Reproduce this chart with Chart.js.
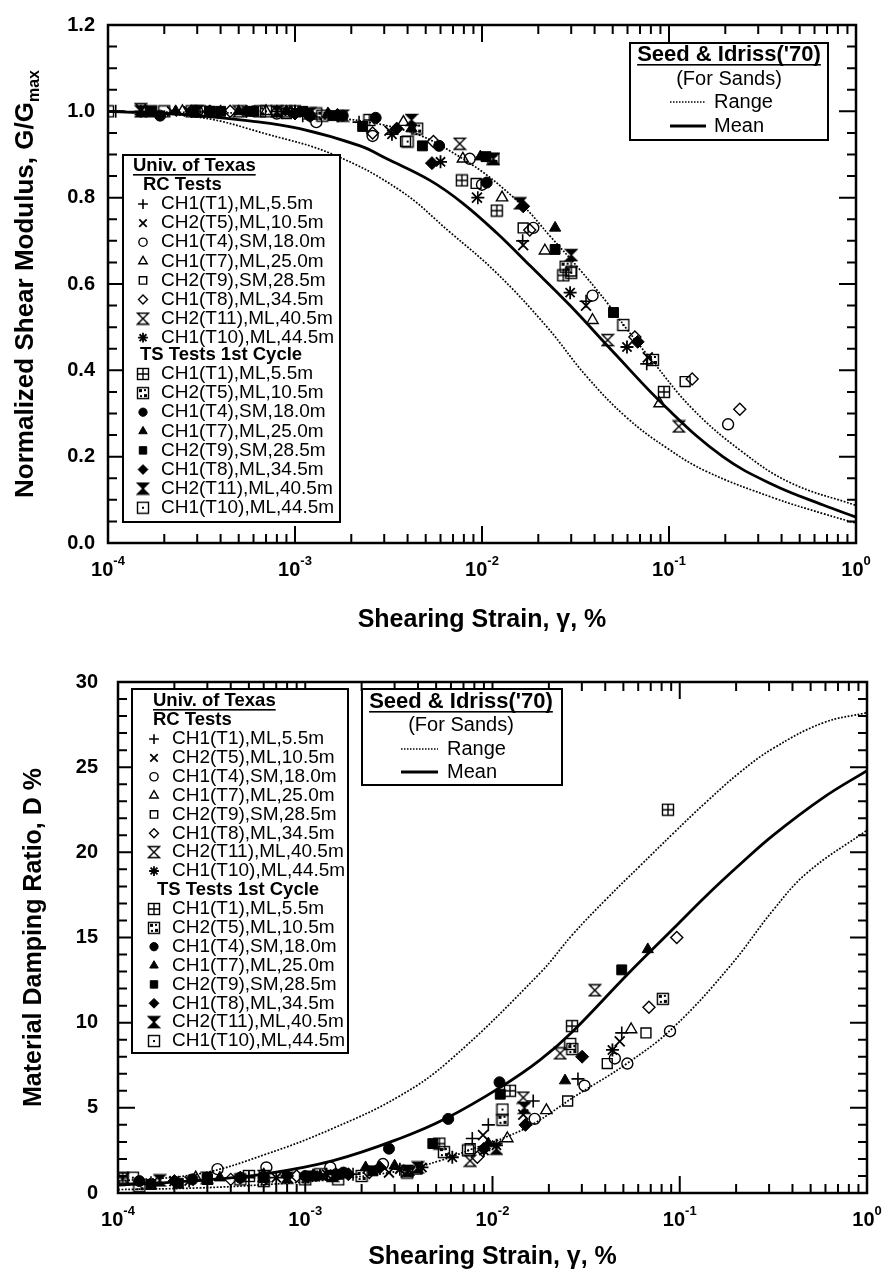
<!DOCTYPE html>
<html>
<head>
<meta charset="utf-8">
<title>Normalized shear modulus and damping vs shearing strain</title>
<script src="https://cdn.jsdelivr.net/npm/chart.js@4.4.1/dist/chart.umd.min.js"></script>
<style>
  body { margin: 0; background: #fff; }
  canvas { display: block; }
</style>
</head>
<body>
<canvas id="modulusChart" width="888" height="650"></canvas>
<canvas id="dampingChart" width="888" height="635"></canvas>
<script>
const FONT = "'Liberation Sans', Arial, Helvetica, sans-serif";

// sample ids, same eight for RC and TS tests
const sampleLabels = [
  'CH1(T1),ML,5.5m', 'CH2(T5),ML,10.5m', 'CH1(T4),SM,18.0m', 'CH1(T7),ML,25.0m',
  'CH2(T9),SM,28.5m', 'CH1(T8),ML,34.5m', 'CH2(T11),ML,40.5m', 'CH1(T10),ML,44.5m'
];
const strainDecades = [-4, -3, -2, -1, 0];

// G/Gmax, [strain %, G/Gmax]
const modulusRC = [
  [[1.1e-4, 1.0], [1.5e-4, 1.0], [4e-4, 1.0], [8e-4, 1.0], [1.1e-3, 0.99], [2.2e-3, 0.975], [9.5e-3, 0.80], [0.0165, 0.70], [0.036, 0.56], [0.076, 0.415]],
  [[2.2e-4, 1.0], [2.7e-4, 1.0], [6e-4, 1.0], [1.6e-3, 0.995], [3.2e-3, 0.955], [9.4e-3, 0.80], [0.0166, 0.69], [0.036, 0.55], [0.077, 0.43]],
  [[3e-4, 1.0], [8e-4, 0.995], [1.3e-3, 0.975], [2.6e-3, 0.943], [8.6e-3, 0.89], [0.010, 0.83], [0.0188, 0.73], [0.039, 0.573], [0.207, 0.275]],
  [[2.5e-4, 1.0], [7e-4, 1.0], [3.8e-3, 0.975], [7.9e-3, 0.89], [0.0128, 0.80], [0.0217, 0.677], [0.039, 0.516], [0.089, 0.323]],
  [[3.5e-4, 1.0], [9e-4, 0.995], [3.9e-3, 0.93], [9.3e-3, 0.833], [0.0166, 0.73], [0.030, 0.63], [0.122, 0.374]],
  [[4.5e-4, 1.0], [1.2e-3, 0.99], [2.6e-3, 0.95], [5.5e-3, 0.93], [0.018, 0.725], [0.0657, 0.477], [0.133, 0.38], [0.239, 0.31]],
  [[1.5e-4, 1.005], [5e-4, 1.0], [1.8e-3, 0.99], [7.6e-3, 0.925], [0.047, 0.47], [0.113, 0.27]],
  [[3.5e-4, 1.0], [1.0e-3, 1.0], [3.3e-3, 0.947], [6e-3, 0.883], [0.0296, 0.58], [0.0596, 0.454]]
];
const modulusTS = [
  [[1.0e-4, 1.0], [3.1e-4, 1.0], [1.0e-3, 1.0], [2.5e-3, 0.98], [7.8e-3, 0.84], [0.012, 0.77], [0.0272, 0.62], [0.094, 0.35]],
  [[1.7e-4, 1.0], [2.8e-4, 1.0], [6.5e-4, 1.0], [9e-4, 1.0], [1.4e-3, 0.99], [4.5e-3, 0.96], [0.0115, 0.89], [0.028, 0.64], [0.082, 0.424]],
  [[1.9e-4, 0.99], [3.5e-4, 1.0], [6e-4, 1.0], [1.2e-3, 0.99], [1.8e-3, 0.99], [2.7e-3, 0.985], [5.9e-3, 0.92], [0.0106, 0.835]],
  [[2.3e-4, 1.0], [5e-4, 1.0], [9e-4, 1.0], [1.5e-3, 0.995], [4.2e-3, 0.96], [0.0098, 0.895], [0.0246, 0.73]],
  [[1.7e-4, 1.0], [4e-4, 1.0], [6e-4, 1.0], [1.1e-3, 1.0], [1.6e-3, 0.99], [2.3e-3, 0.965], [4.8e-3, 0.92], [0.0105, 0.895], [0.0246, 0.68], [0.0505, 0.534]],
  [[2.8e-4, 1.0], [5.5e-4, 1.0], [1.0e-3, 0.995], [1.7e-3, 0.99], [3.5e-3, 0.96], [5.4e-3, 0.88], [0.0166, 0.78], [0.068, 0.466]],
  [[1.5e-4, 1.0], [3e-4, 1.0], [8e-4, 1.0], [1.2e-3, 0.995], [4.2e-3, 0.98], [0.0115, 0.89], [0.016, 0.787], [0.030, 0.667]],
  [[2e-4, 1.0], [7e-4, 1.0], [1.3e-3, 0.995], [4e-3, 0.93], [0.030, 0.626], [0.057, 0.505]]
];

// damping ratio, [strain %, D %]
const dampingRC = [
  [[1.5e-4, 0.6], [5e-4, 0.9], [1.8e-3, 1.1], [7.8e-3, 3.2], [9.5e-3, 4.0], [0.0165, 5.4], [0.0286, 6.7], [0.049, 9.4]],
  [[2e-4, 0.7], [8e-4, 0.9], [1.1e-3, 1.0], [1.53e-3, 1.2], [2.8e-3, 1.2], [3.6e-3, 1.3], [8.9e-3, 3.4], [0.0146, 4.6], [0.0478, 8.9]],
  [[3.4e-4, 1.4], [6.2e-4, 1.5], [1.36e-3, 1.5], [2.6e-3, 1.7], [0.0168, 4.35], [0.031, 6.3], [0.045, 7.9], [0.0525, 7.6], [0.0887, 9.5]],
  [[2.6e-4, 0.9], [1.1e-3, 1.0], [3.9e-3, 1.3], [0.012, 3.2], [0.0194, 4.85], [0.055, 9.6]],
  [[3e-4, 0.8], [1.4e-3, 1.0], [7.6e-3, 2.6], [0.0252, 5.4], [0.041, 7.6], [0.066, 9.4]],
  [[4e-4, 0.8], [9e-4, 1.0], [2.2e-3, 1.2], [8.3e-3, 2.1], [0.0685, 10.9], [0.0964, 15.0]],
  [[1.06e-4, 0.85], [6e-4, 1.0], [7.6e-3, 1.9], [0.0146, 5.6], [0.023, 8.2], [0.0352, 11.9]],
  [[2.4e-4, 0.7], [7e-4, 0.9], [1.3e-3, 1.1], [3.2e-3, 1.4], [4.2e-3, 1.5], [6.1e-3, 2.1], [9e-3, 2.5], [0.0105, 2.8], [0.0437, 8.4]]
];
const dampingTS = [
  [[1.06e-4, 0.9], [5e-4, 1.0], [1.2e-3, 1.1], [5.2e-3, 2.9], [0.0124, 6.0], [0.0266, 9.8], [0.0865, 22.5]],
  [[1.3e-4, 0.4], [6e-4, 0.7], [1e-3, 0.8], [2e-3, 1.0], [3.5e-3, 1.2], [5.5e-3, 2.4], [0.0113, 4.3], [0.0267, 8.45], [0.0812, 11.4]],
  [[1.3e-4, 0.7], [2.5e-4, 0.8], [4.5e-4, 0.9], [1e-3, 1.0], [1.6e-3, 1.2], [2.8e-3, 2.6], [5.8e-3, 4.35], [0.0109, 6.5]],
  [[3.5e-4, 0.9], [6e-4, 1.1], [1.2e-3, 1.0], [2.1e-3, 1.5], [3e-3, 1.6], [9.5e-3, 2.9], [0.0244, 6.6], [0.0675, 14.3]],
  [[1.5e-4, 0.5], [2.1e-4, 0.57], [3e-4, 0.8], [6e-4, 0.9], [1.1e-3, 1.0], [1.5e-3, 1.1], [2.3e-3, 1.3], [4.8e-3, 2.9], [0.011, 5.8], [0.049, 13.1]],
  [[2e-4, 0.7], [4.5e-4, 0.9], [8e-4, 1.0], [1.7e-3, 1.1], [2.5e-3, 1.5], [9e-3, 2.6], [0.015, 4.0], [0.0301, 8.0]],
  [[1.67e-4, 0.74], [3e-4, 0.9], [8e-4, 0.9], [1.4e-3, 1.0], [3.5e-3, 1.3], [4e-3, 1.5], [0.0105, 2.6], [0.0148, 5.0]],
  [[1.2e-4, 0.9], [4.5e-4, 0.8], [1.5e-3, 0.8], [7.4e-3, 2.5], [0.0113, 4.9], [0.026, 8.75]]
];

// Seed & Idriss (1970) curves for sands
const siModulusUpper = [[1e-4, 1.0], [1e-3, 0.99], [3.6e-3, 0.96], [7.9e-3, 0.89], [0.016, 0.787], [0.0231, 0.711], [0.0334, 0.633], [0.0466, 0.557], [0.0596, 0.495], [0.082, 0.42], [0.134, 0.31], [0.24, 0.215], [0.444, 0.14], [1, 0.087]];
const siModulusMean = [[1e-4, 1.0], [2.5e-4, 0.993], [5.7e-4, 0.978], [1.06e-3, 0.96], [2.23e-3, 0.92], [3.1e-3, 0.89], [5.27e-3, 0.84], [7.9e-3, 0.787], [0.012, 0.718], [0.0181, 0.642], [0.0296, 0.55], [0.0502, 0.443], [0.0976, 0.312], [0.194, 0.2], [0.36, 0.135], [0.667, 0.088], [1, 0.06]];
const siModulusLower = [[1e-4, 1.0], [3.1e-4, 0.986], [7.1e-4, 0.947], [1.6e-3, 0.90], [3.64e-3, 0.817], [6.74e-3, 0.72], [0.012, 0.625], [0.0223, 0.50], [0.0364, 0.385], [0.0596, 0.29], [0.0975, 0.22], [0.16, 0.165], [0.36, 0.105], [0.667, 0.068], [1, 0.046]];
const siDampingUpper = [[1e-4, 0.7], [2.74e-4, 1.14], [6.25e-4, 2.3], [1.41e-3, 3.8], [3.2e-3, 5.7], [5.93e-3, 7.8], [0.0179, 12.9], [0.0269, 15.2], [0.0409, 17.3], [0.0613, 19.2], [0.092, 21.1], [0.14, 23.0], [0.21, 24.7], [0.315, 26.1], [0.582, 27.6], [1, 28.2]];
const siDampingMean = [[1e-4, 0.46], [2.74e-4, 0.74], [6.25e-4, 1.14], [1.41e-3, 1.9], [3.2e-3, 3.2], [5.7e-3, 4.4], [0.011, 6.2], [0.0179, 7.8], [0.0269, 9.5], [0.0522, 12.8], [0.092, 15.5], [0.14, 17.5], [0.21, 19.3], [0.315, 21.0], [0.582, 23.2], [1, 24.8]];
const siDampingLower = [[1e-4, 0.2], [2.74e-4, 0.3], [6.25e-4, 0.5], [1.41e-3, 0.8], [3.2e-3, 1.3], [5.25e-3, 1.9], [7.87e-3, 2.6], [0.0119, 3.3], [0.0168, 4.1], [0.0269, 5.6], [0.0522, 7.6], [0.092, 9.7], [0.185, 13.3], [0.315, 16.6], [0.479, 18.8], [1, 21.3]];

// --- symbols ---
function symbolCanvas(draw) {
  const c = document.createElement('canvas');
  c.width = 14; c.height = 14;
  const g = c.getContext('2d');
  g.strokeStyle = '#000';
  g.fillStyle = '#000';
  g.lineWidth = 1.4;
  draw(g);
  return c;
}
function hourglassPath(g) {
  g.beginPath();
  g.moveTo(1.5, 1.5); g.lineTo(12.5, 1.5); g.lineTo(1.5, 12.5); g.lineTo(12.5, 12.5); g.closePath();
}
const hourglassOpen = symbolCanvas(g => { hourglassPath(g); g.stroke(); });
const hourglassSolid = symbolCanvas(g => { hourglassPath(g); g.fill(); g.stroke(); });
const boxPlus = symbolCanvas(g => {
  g.strokeRect(1.5, 1.5, 11, 11);
  g.beginPath(); g.moveTo(7, 1.5); g.lineTo(7, 12.5); g.moveTo(1.5, 7); g.lineTo(12.5, 7); g.stroke();
});
const boxShaded = symbolCanvas(g => {
  g.strokeRect(1.5, 1.5, 11, 11);
  g.fillRect(3, 3, 3, 3); g.fillRect(8, 8, 3, 3);
  g.fillRect(8, 3, 2, 2); g.fillRect(4, 9, 2, 2);
});
const boxDot = symbolCanvas(g => {
  g.strokeRect(1.5, 1.5, 11, 11);
  g.fillRect(6, 6, 2, 2);
});

const OPEN = 'rgba(0,0,0,0)';
const markRC = [
  { style: 'cross', radius: 6.5, width: 1.6, fill: OPEN },
  { style: 'crossRot', radius: 7, width: 1.8, fill: OPEN },
  { style: 'circle', radius: 5.5, width: 1.4, fill: OPEN },
  { style: 'triangle', radius: 6.5, width: 1.4, fill: OPEN },
  { style: 'rect', radius: 7, width: 1.4, fill: OPEN },
  { style: 'rectRot', radius: 6, width: 1.4, fill: OPEN },
  { style: hourglassOpen, radius: 6, width: 1, fill: OPEN },
  { style: 'star', radius: 6.5, width: 1.8, fill: OPEN }
];
const markTS = [
  { style: boxPlus, radius: 6, width: 1, fill: OPEN },
  { style: boxShaded, radius: 6, width: 1, fill: OPEN },
  { style: 'circle', radius: 5.5, width: 1, fill: '#000' },
  { style: 'triangle', radius: 6.5, width: 1, fill: '#000' },
  { style: 'rect', radius: 7, width: 1, fill: '#000' },
  { style: 'rectRot', radius: 6.5, width: 1, fill: '#000' },
  { style: hourglassSolid, radius: 6, width: 1, fill: '#000' },
  { style: boxDot, radius: 6, width: 1, fill: OPEN }
];

function pointSets(rc, ts) {
  const out = [];
  [[rc, markRC], [ts, markTS]].forEach(([group, marks]) => {
    group.forEach((pts, i) => {
      const m = marks[i];
      out.push({
        data: pts.map(([x, y]) => ({ x, y })),
        showLine: false,
        pointStyle: m.style,
        pointRadius: m.radius,
        pointBorderWidth: m.width,
        pointBorderColor: '#000',
        pointBackgroundColor: m.fill
      });
    });
  });
  return out;
}
function curveSet(pts, dotted) {
  return {
    data: pts.map(([x, y]) => ({ x, y })),
    showLine: true,
    pointRadius: 0,
    borderColor: '#000',
    borderWidth: dotted ? 1.7 : 2.8,
    borderDash: dotted ? [1.8, 1.6] : [],
    tension: 0.4
  };
}

function drawMarker(ctx, m, x, y, k) {
  ctx.save();
  ctx.strokeStyle = '#000';
  ctx.fillStyle = m.fill;
  ctx.lineWidth = m.width;
  Chart.helpers.drawPoint(ctx, { pointStyle: m.style, radius: m.radius * k, borderWidth: m.width, rotation: 0 }, x, y);
  ctx.restore();
}
function underlined(ctx, text, x, y, align, gap) {
  ctx.textAlign = align;
  ctx.fillText(text, x, y);
  const w = ctx.measureText(text).width;
  const x0 = align === 'center' ? x - w / 2 : x;
  ctx.fillRect(x0, y + gap, w, 1.6);
}

function drawTexasLegend(ctx, L) {
  ctx.save();
  ctx.fillStyle = '#fff';
  ctx.fillRect(L.x, L.y, L.w, L.h);
  ctx.lineWidth = 2;
  ctx.strokeStyle = '#000';
  ctx.strokeRect(L.x, L.y, L.w, L.h);
  ctx.fillStyle = '#000';
  ctx.textBaseline = 'middle';
  ctx.font = `bold 18.5px ${FONT}`;
  underlined(ctx, 'Univ. of Texas', L.titleX, L.titleY, 'left', 8);
  ctx.fillText('RC Tests', L.rcX, L.rcY);
  ctx.fillText('TS Tests 1st Cycle', L.tsX, L.tsY);
  ctx.font = `19px ${FONT}`;
  sampleLabels.forEach((label, i) => {
    const y1 = L.rcRow + i * L.step;
    const y2 = L.tsRow + i * L.step;
    drawMarker(ctx, markRC[i], L.markX, y1, 0.75);
    drawMarker(ctx, markTS[i], L.markX, y2, 0.75);
    ctx.fillStyle = '#000';
    ctx.textAlign = 'left';
    ctx.fillText(label, L.textX, y1);
    ctx.fillText(label, L.textX, y2);
  });
  ctx.restore();
}

function drawSeedLegend(ctx, S) {
  ctx.save();
  ctx.fillStyle = '#fff';
  ctx.fillRect(S.x, S.y, S.w, S.h);
  ctx.lineWidth = 2;
  ctx.strokeStyle = '#000';
  ctx.strokeRect(S.x, S.y, S.w, S.h);
  ctx.fillStyle = '#000';
  ctx.textBaseline = 'middle';
  ctx.font = `bold 22px ${FONT}`;
  underlined(ctx, "Seed & Idriss('70)", S.cx, S.titleY, 'center', 9);
  ctx.font = `20px ${FONT}`;
  ctx.textAlign = 'center';
  ctx.fillText('(For Sands)', S.cx, S.sandY);
  ctx.textAlign = 'left';
  ctx.fillText('Range', S.textX, S.rangeY);
  ctx.fillText('Mean', S.textX, S.meanY);
  ctx.beginPath();
  ctx.setLineDash([1.5, 1.5]);
  ctx.lineWidth = 1.6;
  ctx.moveTo(S.lineX0, S.rangeY); ctx.lineTo(S.lineX1, S.rangeY);
  ctx.stroke();
  ctx.beginPath();
  ctx.setLineDash([]);
  ctx.lineWidth = 2.8;
  ctx.moveTo(S.lineX0, S.meanY); ctx.lineTo(S.lineX1, S.meanY);
  ctx.stroke();
  ctx.restore();
}

// border, inward tick marks on all four sides, and 10^n strain labels
const framePlugin = {
  id: 'frame',
  afterDatasetsDraw(chart, args, opts) {
    const { ctx, chartArea: a, scales: { x, y } } = chart;
    ctx.save();
    ctx.strokeStyle = '#000';
    ctx.lineWidth = 2;
    ctx.beginPath();
    for (let e = -4; e < 0; e++) {
      for (let m = 1; m <= 9; m++) {
        const px = x.getPixelForValue(m * Math.pow(10, e));
        const len = m === 1 ? 17 : 9;
        ctx.moveTo(px, a.bottom); ctx.lineTo(px, a.bottom - len);
        ctx.moveTo(px, a.top); ctx.lineTo(px, a.top + len);
      }
    }
    const n = Math.round((opts.yMax - opts.yMin) / opts.minor);
    const every = Math.round(opts.major / opts.minor);
    for (let i = 1; i < n; i++) {
      const py = y.getPixelForValue(opts.yMin + i * opts.minor);
      const len = i % every === 0 ? 17 : 9;
      ctx.moveTo(a.left, py); ctx.lineTo(a.left + len, py);
      ctx.moveTo(a.right, py); ctx.lineTo(a.right - len, py);
    }
    ctx.stroke();
    ctx.lineWidth = 2.5;
    ctx.strokeRect(a.left, a.top, a.right - a.left, a.bottom - a.top);

    ctx.fillStyle = '#000';
    ctx.textBaseline = 'middle';
    ctx.textAlign = 'left';
    strainDecades.forEach(e => {
      const px = x.getPixelForValue(Math.pow(10, e));
      ctx.font = `bold 20px ${FONT}`;
      const w1 = ctx.measureText('10').width;
      ctx.font = `bold 13px ${FONT}`;
      const sup = String(e);
      const w2 = ctx.measureText(sup).width;
      const x0 = px - (w1 + w2) / 2;
      ctx.font = `bold 20px ${FONT}`;
      ctx.fillText('10', x0, a.bottom + 27);
      ctx.font = `bold 13px ${FONT}`;
      ctx.fillText(sup, x0 + w1, a.bottom + 18);
    });
    ctx.restore();
  }
};

const tickFont = { family: FONT, size: 20, weight: 'bold' };
const titleFont = { family: FONT, size: 25, weight: 'bold' };

// ---------- G/Gmax ----------
new Chart(document.getElementById('modulusChart'), {
  type: 'scatter',
  data: {
    datasets: [
      ...pointSets(modulusRC, modulusTS),
      curveSet(siModulusUpper, true),
      curveSet(siModulusMean, false),
      curveSet(siModulusLower, true)
    ]
  },
  options: {
    responsive: false,
    animation: false,
    layout: { padding: { left: 0, right: 32, top: 20, bottom: 0 } },
    plugins: {
      legend: { display: false },
      tooltip: { enabled: false },
      frame: { yMin: 0, yMax: 1.2, minor: 0.05, major: 0.2 }
    },
    scales: {
      x: {
        type: 'logarithmic', min: 1e-4, max: 1,
        grid: { display: false, drawTicks: false },
        border: { display: false },
        ticks: { display: false },
        title: { display: true, text: 'Shearing Strain, γ, %', font: titleFont, color: '#000', padding: { top: 0, bottom: 15 } },
        afterFit: s => { s.height = 107; }
      },
      y: {
        min: 0, max: 1.2,
        grid: { display: false, drawTicks: false },
        border: { display: false },
        ticks: { stepSize: 0.2, color: '#000', font: tickFont, padding: 13, callback: v => v.toFixed(1) },
        afterFit: s => { s.width = 108; }
      }
    }
  },
  plugins: [framePlugin, {
    id: 'modulusDecor',
    afterDraw(chart) {
      const ctx = chart.ctx;
      const a = chart.chartArea;
      drawTexasLegend(ctx, { x: 123, y: 155, w: 217, h: 367, titleX: 133, titleY: 166, rcX: 143, rcY: 185, tsX: 140, tsY: 355, rcRow: 204, tsRow: 374, step: 19.1, markX: 143, textX: 161 });
      drawSeedLegend(ctx, { x: 630, y: 43, w: 198, h: 97, cx: 729, titleY: 55, sandY: 79, rangeY: 102, meanY: 126, lineX0: 670, lineX1: 706, textX: 714 });
      // y title with subscript
      ctx.save();
      ctx.translate(24, (a.top + a.bottom) / 2);
      ctx.rotate(-Math.PI / 2);
      ctx.fillStyle = '#000';
      ctx.textBaseline = 'alphabetic';
      ctx.textAlign = 'left';
      const main = 'Normalized Shear Modulus, G/G';
      ctx.font = `bold 26px ${FONT}`;
      const w1 = ctx.measureText(main).width;
      ctx.font = `bold 16px ${FONT}`;
      const w2 = ctx.measureText('max').width;
      const x0 = -(w1 + w2) / 2;
      ctx.font = `bold 26px ${FONT}`;
      ctx.fillText(main, x0, 9);
      ctx.font = `bold 16px ${FONT}`;
      ctx.fillText('max', x0 + w1, 15);
      ctx.restore();
    }
  }]
});

// ---------- Damping ----------
new Chart(document.getElementById('dampingChart'), {
  type: 'scatter',
  data: {
    datasets: [
      ...pointSets(dampingRC, dampingTS),
      curveSet(siDampingUpper, true),
      curveSet(siDampingMean, false),
      curveSet(siDampingLower, true)
    ]
  },
  options: {
    responsive: false,
    animation: false,
    layout: { padding: { left: 0, right: 21, top: 17, bottom: 0 } },
    plugins: {
      legend: { display: false },
      tooltip: { enabled: false },
      frame: { yMin: 0, yMax: 30, minor: 1, major: 5 }
    },
    scales: {
      x: {
        type: 'logarithmic', min: 1e-4, max: 1,
        grid: { display: false, drawTicks: false },
        border: { display: false },
        ticks: { display: false },
        title: { display: true, text: 'Shearing Strain, γ, %', font: titleFont, color: '#000', padding: { top: 0, bottom: 13 } },
        afterFit: s => { s.height = 92; }
      },
      y: {
        min: 0, max: 30,
        grid: { display: false, drawTicks: false },
        border: { display: false },
        ticks: { stepSize: 5, color: '#000', font: tickFont, padding: 20 },
        title: { display: true, text: 'Material Damping Ratio, D %', font: titleFont, color: '#000', padding: { top: 19, bottom: 0 } },
        afterFit: s => { s.width = 118; }
      }
    }
  },
  plugins: [framePlugin, {
    id: 'dampingDecor',
    afterDraw(chart) {
      const ctx = chart.ctx;
      drawTexasLegend(ctx, { x: 132, y: 39, w: 216, h: 364, titleX: 153, titleY: 51, rcX: 153, rcY: 70, tsX: 157, tsY: 240, rcRow: 89, tsRow: 259, step: 18.86, markX: 154, textX: 172 });
      drawSeedLegend(ctx, { x: 362, y: 39, w: 200, h: 96, cx: 461, titleY: 52, sandY: 75, rangeY: 99, meanY: 122, lineX0: 401, lineX1: 438, textX: 447 });
    }
  }]
});
</script>
</body>
</html>
